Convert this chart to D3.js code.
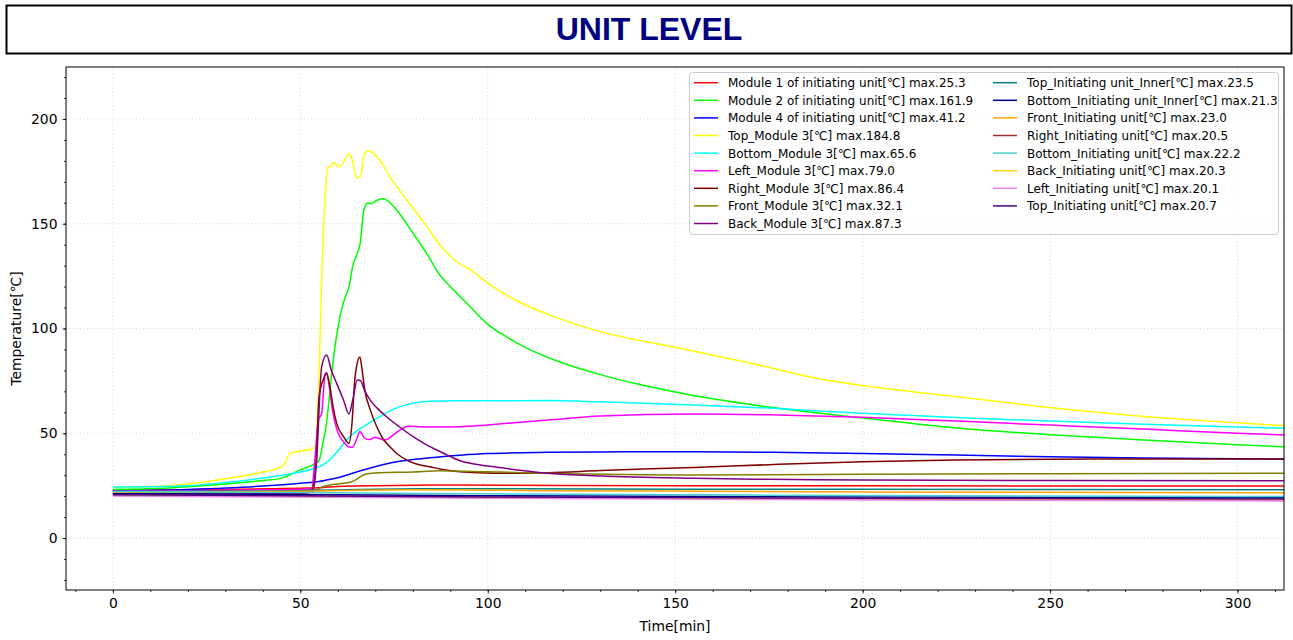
<!DOCTYPE html>
<html>
<head>
<meta charset="utf-8">
<script src="https://cdn.jsdelivr.net/npm/d3@7/dist/d3.min.js"></script>
<style>
  html, body { margin: 0; padding: 0; background: #fff; }
  svg { display: block; }
  text { font-family: "DejaVu Sans", sans-serif; }
</style>
</head>
<body>
<svg id="chart" width="1293" height="640"></svg>
<script>
// Temperature logs, [minute, °C] pairs per channel
const module1Init = [[0,22.8],[30,23.2],[50,23.8],[55,24],[60,24.6],[70,25],[90,25.3],[120,25.1],[200,24.9],[315,24.8]];
const module2Init = [[0,23.2],[10,23.5],[20,24.5],[30,25.8],[40,27.5],[45,28.6],[50,32.5],[54,35.6],[55,37],[56,45],[57,55],[58,72],[59,88],[60,100],[61,109],[62,115],[63,120],[64,130],[65,135],[66,141],[66.8,155],[67.5,159],[68,160],[69,159.5],[70,160.8],[71,161.6],[72,161.9],[73,161.3],[75.7,156.6],[80.1,145.4],[83.7,135.9],[87.2,125.5],[90,120],[95,111],[100,102],[105,96],[110,91],[120,83.5],[130,78],[140,73.5],[150,69.7],[175,62.5],[200,57.3],[225,52.5],[250,49.3],[275,46.8],[300,44.5],[315,43.3]];
const module4Init = [[0,22.5],[20,23.2],[40,24.8],[50,26.2],[55,27],[57,27.7],[60,28.8],[66.8,32.5],[75.7,36.4],[84.6,38.3],[92.6,39.5],[100,40.3],[116,40.9],[130,41.1],[155,41.2],[175,40.9],[200,40.4],[225,39.6],[250,38.8],[275,38.2],[300,37.8],[315,37.7]];
const topModule3 = [[0,24.2],[10,24.5],[20,25.8],[30,28.3],[40,31.5],[45,34],[46,36],[47,40],[48,40.8],[50,41.5],[53,42.5],[54.2,45],[55,80],[55.5,110],[56,140],[56.7,165],[57.3,177],[58,177.2],[59,179.2],[60,177.2],[61.3,178.8],[62,181],[63,183.3],[64,179.6],[65,171.7],[66.2,173.3],[67,182.8],[68.1,184.8],[69,184.2],[71.2,180.4],[73.9,172.5],[78.4,161.3],[82.8,151],[87.2,140],[92,131.5],[95,128.5],[100,121.7],[108,113],[116.6,106.4],[130,98.5],[150,91],[170,83.5],[190,75.5],[210,70.5],[230,66.5],[251.6,61.9],[275,58],[300,55],[315,53.3]];
const bottomModule3 = [[0,24.3],[20,25],[30,26.5],[45,30],[50,31.5],[55,34],[57,36],[60,41.5],[62.3,46.8],[65,51],[68,54.5],[71.2,57.9],[74,60.8],[76.6,62.7],[80,64.3],[82.8,65.1],[87,65.4],[92.6,65.5],[100,65.5],[116,65.6],[130,65],[155,63.5],[175,62],[200,59.5],[225,57.5],[250,55.8],[275,54.3],[300,53],[315,52.3]];
const leftModule3 = [[0,22.3],[20,22.6],[40,23],[50,23.3],[53,23.5],[54,40],[54.8,56.3],[55.7,59.5],[56.6,78],[57,79],[57.5,75],[58.5,62],[60.1,50],[61.5,46],[62.8,43.6],[63.9,43.3],[65,47],[65.9,50.8],[67.2,47.6],[68.5,47],[69.9,48.1],[71,47.5],[72.6,46.8],[74.8,49.2],[77,52],[78.8,53.3],[85,53],[92.6,53.1],[100,54],[116,56.3],[130,58.2],[155,59.2],[175,58.8],[200,57.6],[225,55.8],[250,53.9],[275,52],[300,50],[315,49]];
const rightModule3 = [[0,22],[30,22],[50,22.2],[53,22.9],[54.2,35.6],[55,67.4],[56.1,75.4],[57,78.6],[57.9,72.2],[58.8,62],[59.7,54.7],[61.5,48.5],[63,45.2],[63.8,55],[64.5,75],[65,81.8],[65.9,86.4],[66.5,80],[67.2,70.6],[68.5,62],[70.4,53.1],[72,47.5],[73.9,43.6],[76,40],[78.4,37.2],[81,35.3],[84.6,34],[88,32.7],[92.6,31.6],[101.8,30.9],[116,31.2],[130,32.2],[155,33.7],[175,35],[200,36.4],[225,37.2],[250,37.6],[275,37.7],[315,37.7]];
const frontModule3 = [[0,22],[30,22],[50,22.2],[54.3,22.9],[56,24.5],[57.9,25.3],[60,25.8],[63.7,26.9],[65,28],[66.8,30.1],[68.5,30.8],[71.2,31.2],[80,31.5],[87,32.1],[100,31.6],[116,30.9],[155,30.1],[200,30.4],[250,30.7],[315,30.9]];
const backModule3 = [[0,21],[30,21],[50,21.3],[53.4,22.1],[54.3,35.6],[55.7,81.8],[57,87.3],[58.3,80],[59.7,73.8],[61.5,66],[63,59.2],[64,66],[65.2,75.4],[66.1,75.1],[67,71],[68.6,65.9],[70.5,62],[73,57.9],[76.5,53],[80.1,48.4],[83,45.2],[86.4,42],[89,39.8],[92.6,36.9],[96,35.5],[101.8,34],[108,32.5],[116,30.9],[130,29.6],[155,28.5],[175,28],[200,27.7],[250,27.4],[315,27.3]];
const topInitInner = [[0,22.2],[40,22.5],[55,22.8],[70,23.3],[90,23.5],[150,23.3],[250,23.2],[315,23.0]];
const bottomInitInner = [[0,21.3],[50,20.8],[100,20.2],[200,19.6],[315,19.2]];
const frontInit = [[0,21.8],[50,22.3],[65,22.8],[80,23.0],[120,22.6],[200,22],[315,21.6]];
const rightInit = [[0,20.5],[100,19.4],[200,18.6],[315,18.1]];
const bottomInit = [[0,22.2],[50,21.7],[100,21.1],[200,20.3],[315,19.8]];
const backInit = [[0,20.3],[100,19.3],[200,18.7],[315,18.3]];
const leftInit = [[0,20.1],[100,19],[200,18.2],[315,17.7]];
const topInit = [[0,20.7],[100,19.6],[200,19],[315,18.6]];

const seriesNames = [
  "Module 1 of initiating unit[℃] max.25.3",
  "Module 2 of initiating unit[℃] max.161.9",
  "Module 4 of initiating unit[℃] max.41.2",
  "Top_Module 3[℃] max.184.8",
  "Bottom_Module 3[℃] max.65.6",
  "Left_Module 3[℃] max.79.0",
  "Right_Module 3[℃] max.86.4",
  "Front_Module 3[℃] max.32.1",
  "Back_Module 3[℃] max.87.3",
  "Top_Initiating unit_Inner[℃] max.23.5",
  "Bottom_Initiating unit_Inner[℃] max.21.3",
  "Front_Initiating unit[℃] max.23.0",
  "Right_Initiating unit[℃] max.20.5",
  "Bottom_Initiating unit[℃] max.22.2",
  "Back_Initiating unit[℃] max.20.3",
  "Left_Initiating unit[℃] max.20.1",
  "Top_Initiating unit[℃] max.20.7"
];
const seriesData = [module1Init, module2Init, module4Init, topModule3, bottomModule3, leftModule3,
  rightModule3, frontModule3, backModule3, topInitInner, bottomInitInner, frontInit, rightInit,
  bottomInit, backInit, leftInit, topInit];
const seriesColors = ["#ff0000","#00ff00","#0000ff","#ffff00","#00ffff","#ff00ff","#800000","#808000",
  "#800080","#008080","#00008b","#ffa500","#a52a2a","#48d1cc","#ffd700","#ee82ee","#4b0082"];

const xMajorTicks = [0, 50, 100, 150, 200, 250, 300];
const yMajorTicks = [0, 50, 100, 150, 200];

const svg = d3.select("#chart");
const plot = {left: 66, top: 67, right: 1284, bottom: 590};

// Title banner
svg.append("rect").attr("x", 6.5).attr("y", 5.5).attr("width", 1285).attr("height", 48)
  .attr("fill", "#fff").attr("stroke", "#000").attr("stroke-width", 2);
svg.append("text").attr("x", 649).attr("y", 40).attr("text-anchor", "middle")
  .style("font-family", "'Liberation Sans', Arial, sans-serif").style("font-weight", "bold")
  .style("font-size", "32px").attr("fill", "#000080").text("UNIT LEVEL");

const x = d3.scaleLinear().domain([-12.5, 312.4]).range([plot.left, plot.right]);
const y = d3.scaleLinear().domain([-24.8, 224.8]).range([plot.bottom, plot.top]);

// Grid
const grid = svg.append("g").attr("stroke", "#cfcfcf").attr("stroke-width", 0.8).attr("stroke-dasharray", "1,2.5");
grid.selectAll(".gx").data(xMajorTicks).join("line")
  .attr("x1", d => x(d)).attr("x2", d => x(d)).attr("y1", plot.top).attr("y2", plot.bottom);
grid.selectAll(".gy").data(yMajorTicks).join("line")
  .attr("y1", d => y(d)).attr("y2", d => y(d)).attr("x1", plot.left).attr("x2", plot.right);

// Series
svg.append("clipPath").attr("id", "plotClip").append("rect")
  .attr("x", plot.left).attr("y", plot.top).attr("width", plot.right - plot.left).attr("height", plot.bottom - plot.top);
const line = d3.line().x(d => x(d[0])).y(d => y(d[1])).curve(d3.curveMonotoneX);
const lines = svg.append("g").attr("clip-path", "url(#plotClip)");
seriesData.forEach((s, i) => {
  lines.append("path").datum(s).attr("d", line).attr("fill", "none")
    .attr("stroke", seriesColors[i]).attr("stroke-width", 1.5).attr("stroke-linejoin", "round");
});

// Axes
const xAxis = d3.axisBottom(x).tickValues(xMajorTicks).tickSize(3.5).tickPadding(5);
const xMinor = d3.axisBottom(x).tickValues(d3.range(-10, 313, 10)).tickSize(2).tickFormat("");
const yAxis = d3.axisLeft(y).tickValues(yMajorTicks).tickSize(3.5).tickPadding(5);
const yMinor = d3.axisLeft(y).tickValues(d3.range(-20, 225, 10)).tickSize(2).tickFormat("");

function styleAxis(g) {
  g.select(".domain").remove();
  g.selectAll("line").attr("stroke", "#000").attr("stroke-width", 0.8);
  g.selectAll("text").style("font-family", "'DejaVu Sans', sans-serif").style("font-size", "13.9px").attr("fill", "#000");
}
svg.append("g").attr("transform", `translate(0,${plot.bottom})`).call(xMinor).call(styleAxis);
svg.append("g").attr("transform", `translate(0,${plot.bottom})`).call(xAxis).call(styleAxis);
svg.append("g").attr("transform", `translate(${plot.left},0)`).call(yMinor).call(styleAxis);
svg.append("g").attr("transform", `translate(${plot.left},0)`).call(yAxis).call(styleAxis);

svg.append("rect").attr("x", plot.left).attr("y", plot.top).attr("width", plot.right - plot.left)
  .attr("height", plot.bottom - plot.top).attr("fill", "none").attr("stroke", "#000").attr("stroke-width", 1);

svg.append("text").attr("x", (plot.left + plot.right) / 2).attr("y", 631).attr("text-anchor", "middle")
  .style("font-size", "13.9px").text("Time[min]");
svg.append("text").attr("transform", `translate(21,${(plot.top + plot.bottom) / 2}) rotate(-90)`)
  .attr("text-anchor", "middle").style("font-size", "13.9px").text("Temperature[℃]");

// Legend
const legend = svg.append("g");
legend.append("rect").attr("x", 689.5).attr("y", 72.5).attr("width", 589).attr("height", 162).attr("rx", 3)
  .attr("fill", "#fff").attr("fill-opacity", 0.8).attr("stroke", "#cccccc").attr("stroke-width", 1);
const perCol = 9;
seriesNames.forEach((name, i) => {
  const col = Math.floor(i / perCol), row = i % perCol;
  const lx = col === 0 ? 694 : 993;
  const ly = 82.7 + row * 17.6;
  legend.append("line").attr("x1", lx).attr("x2", lx + 24).attr("y1", ly).attr("y2", ly)
    .attr("stroke", seriesColors[i]).attr("stroke-width", 1.5);
  legend.append("text").attr("x", lx + 34).attr("y", ly + 4.4).style("font-size", "12px").attr("fill", "#000").text(name);
});
</script>
</body>
</html>
